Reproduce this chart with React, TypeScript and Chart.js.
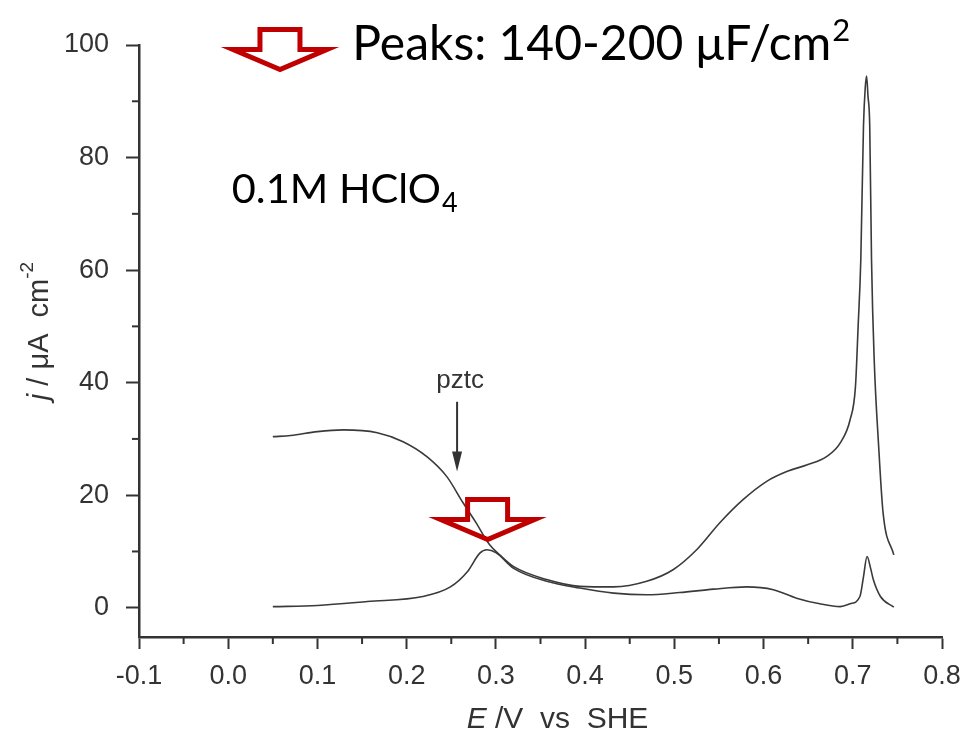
import { useEffect, useRef } from "react";
import { Chart, registerables } from "chart.js";

Chart.register(...registerables);

// ---- data ----
const anodicE = [0.05, 0.07, 0.1, 0.129, 0.167, 0.196, 0.223, 0.245, 0.263, 0.277, 0.293, 0.305, 0.32, 0.357, 0.394, 0.432, 0.469, 0.499, 0.525, 0.551, 0.577, 0.604, 0.626, 0.649, 0.671, 0.686, 0.697, 0.703, 0.706, 0.709, 0.712, 0.714, 0.7155, 0.717, 0.719, 0.721, 0.724, 0.729, 0.734, 0.746];
const anodicJ = [30.4, 30.6, 31.3, 31.6, 31.1, 29.5, 26.8, 23.3, 18.7, 15.3, 11.2, 9.3, 7.3, 5.0, 3.8, 3.7, 4.7, 6.8, 10.3, 15.1, 19.2, 22.5, 24.2, 25.4, 26.9, 29.3, 33.4, 39.3, 50.0, 61.9, 85.6, 92.5, 94.5, 91.0, 85.6, 61.9, 44.1, 28.7, 16.8, 9.4];

const cathodicE = [0.05, 0.1, 0.156, 0.218, 0.249, 0.268, 0.282, 0.29, 0.3, 0.32, 0.357, 0.394, 0.432, 0.469, 0.506, 0.544, 0.581, 0.611, 0.637, 0.663, 0.686, 0.697, 0.708, 0.712, 0.716, 0.72, 0.723, 0.731, 0.746];
const cathodicJ = [0.2, 0.4, 1.1, 2.0, 3.7, 6.4, 9.7, 10.3, 9.8, 7.0, 4.7, 3.5, 2.6, 2.3, 2.7, 3.3, 3.7, 3.2, 1.7, 0.7, 0.2, 0.7, 2.0, 5.5, 9.1, 7.0, 5.0, 2.0, 0.1];

const xTickValues = [-0.1, 0.0, 0.1, 0.2, 0.3, 0.4, 0.5, 0.6, 0.7, 0.8];
const xMinorTicks = [-0.05, 0.05, 0.15, 0.25, 0.35, 0.45, 0.55, 0.65, 0.75];
const yTickValues = [0, 20, 40, 60, 80, 100];
const yMinorTicks = [10, 30, 50, 70, 90];
const xRange = [-0.1, 0.8];
const yRange = [-5.2, 100];

const peakText = "Peaks: 140-200 \u03BCF/cm";
const peakSup = "2";
const peakAt = { E: 0.139, j: 97.4 };
const electrolyteText = "0.1M HClO";
const electrolyteSub = "4";
const electrolyteAt = { E: 0.004, j: 72.0 };
const pztcLabel = "pztc";
const pztcAt = { E: 0.2565, label: 39.1, from: 36.6, to: 24.2 };
const redArrowTips = [
  { E: 0.058, j: 95.1 },
  { E: 0.2907, j: 11.6 },
];

const LINE = "#3a3a3a";
const AXIS = "#333333";
const RED = "#c00000";
const SANS = "'Liberation Sans', Arial, sans-serif";

const overlay = {
  id: "overlay",
  afterDraw(chart: any) {
    const ctx: CanvasRenderingContext2D = chart.ctx;
    const xs = chart.scales.x;
    const ys = chart.scales.y;
    const area = chart.chartArea;
    ctx.save();

    // minor ticks
    ctx.strokeStyle = AXIS;
    ctx.lineWidth = 2;
    xMinorTicks.forEach((v) => {
      const px = xs.getPixelForValue(v);
      ctx.beginPath();
      ctx.moveTo(px, area.bottom);
      ctx.lineTo(px, area.bottom + 7);
      ctx.stroke();
    });
    yMinorTicks.forEach((v) => {
      const py = ys.getPixelForValue(v);
      ctx.beginPath();
      ctx.moveTo(area.left, py);
      ctx.lineTo(area.left - 7, py);
      ctx.stroke();
    });

    // pztc label + arrow
    const pzx = xs.getPixelForValue(pztcAt.E);
    ctx.fillStyle = AXIS;
    ctx.font = `26px ${SANS}`;
    ctx.textAlign = "center";
    ctx.textBaseline = "alphabetic";
    ctx.fillText(pztcLabel, pzx + 3, ys.getPixelForValue(pztcAt.label));
    const y0 = ys.getPixelForValue(pztcAt.from);
    const y1 = ys.getPixelForValue(pztcAt.to);
    ctx.lineWidth = 2;
    ctx.beginPath();
    ctx.moveTo(pzx, y0);
    ctx.lineTo(pzx, y1 - 16);
    ctx.stroke();
    ctx.beginPath();
    ctx.moveTo(pzx - 5, y1 - 20);
    ctx.lineTo(pzx + 5, y1 - 20);
    ctx.lineTo(pzx, y1);
    ctx.closePath();
    ctx.fill();

    // red hollow block arrows
    ctx.strokeStyle = RED;
    ctx.lineWidth = 5;
    ctx.lineJoin = "miter";
    redArrowTips.forEach((t) => {
      const tx = xs.getPixelForValue(t.E);
      const ty = ys.getPixelForValue(t.j);
      ctx.beginPath();
      ctx.moveTo(tx, ty - 3);
      ctx.lineTo(tx - 47, ty - 23);
      ctx.lineTo(tx - 20, ty - 23);
      ctx.lineTo(tx - 20, ty - 43);
      ctx.lineTo(tx + 20, ty - 43);
      ctx.lineTo(tx + 20, ty - 23);
      ctx.lineTo(tx + 47, ty - 23);
      ctx.closePath();
      ctx.stroke();
    });

    // big annotation texts
    ctx.fillStyle = "#000";
    ctx.textAlign = "left";
    ctx.textBaseline = "alphabetic";
    let px = xs.getPixelForValue(peakAt.E);
    let py = ys.getPixelForValue(peakAt.j);
    ctx.font = `48px Lato, 'Open Sans', sans-serif`;
    ctx.fillText(peakText, px, py);
    px += ctx.measureText(peakText).width + 1;
    ctx.font = `31px Lato, 'Open Sans', sans-serif`;
    ctx.fillText(peakSup, px, py - 19);

    px = xs.getPixelForValue(electrolyteAt.E);
    py = ys.getPixelForValue(electrolyteAt.j);
    ctx.font = `41.5px Lato, 'Open Sans', sans-serif`;
    ctx.fillText(electrolyteText, px, py);
    px += ctx.measureText(electrolyteText).width + 1;
    ctx.font = `27px Lato, 'Open Sans', sans-serif`;
    ctx.fillText(electrolyteSub, px, py + 9);

    // x axis title
    ctx.fillStyle = AXIS;
    const xParts: [string, string][] = [
      ["E", "italic"],
      [" /V  vs  SHE", "normal"],
    ];
    let total = 0;
    xParts.forEach(([s, st]) => {
      ctx.font = `${st} 30px ${SANS}`;
      total += ctx.measureText(s).width;
    });
    let cx = (area.left + area.right) / 2 + 17 - total / 2;
    const by = area.bottom + 91;
    xParts.forEach(([s, st]) => {
      ctx.font = `${st} 30px ${SANS}`;
      ctx.fillText(s, cx, by);
      cx += ctx.measureText(s).width;
    });

    // y axis title (rotated)
    ctx.save();
    ctx.translate(area.left - 99, (area.top + area.bottom) / 2 - 10);
    ctx.rotate(-Math.PI / 2);
    const yParts: [string, string, number, number][] = [
      ["j", "italic", 29, 0],
      [" / \u03BCA  cm", "normal", 29, 0],
      ["-2", "normal", 19, -12],
    ];
    let yTotal = 0;
    yParts.forEach(([s, st, sz]) => {
      ctx.font = `${st} ${sz}px ${SANS}`;
      yTotal += ctx.measureText(s).width;
    });
    let ox = -yTotal / 2;
    ctx.textBaseline = "middle";
    yParts.forEach(([s, st, sz, dy]) => {
      ctx.font = `${st} ${sz}px ${SANS}`;
      ctx.fillText(s, ox, dy);
      ox += ctx.measureText(s).width;
    });
    ctx.restore();

    ctx.restore();
  },
};

export default function App() {
  const ref = useRef<HTMLCanvasElement | null>(null);
  useEffect(() => {
    if (!ref.current) return;
    const chart = new Chart(ref.current, {
      type: "line",
      data: {
        datasets: [
          {
            label: "anodic",
            data: anodicE.map((e, i) => ({ x: e, y: anodicJ[i] })),
            borderColor: LINE,
            borderWidth: 1.6,
            pointRadius: 0,
            fill: false,
            cubicInterpolationMode: "monotone",
          },
          {
            label: "cathodic",
            data: cathodicE.map((e, i) => ({ x: e, y: cathodicJ[i] })),
            borderColor: LINE,
            borderWidth: 1.6,
            pointRadius: 0,
            fill: false,
            cubicInterpolationMode: "monotone",
          },
        ],
      },
      options: {
        animation: false,
        responsive: false,
        maintainAspectRatio: false,
        layout: { padding: { left: 0, right: 26, top: 45, bottom: 0 } },
        plugins: { legend: { display: false }, tooltip: { enabled: false }, title: { display: false } },
        scales: {
          x: {
            type: "linear",
            min: xRange[0],
            max: xRange[1],
            afterBuildTicks: (scale: any) => {
              scale.ticks = xTickValues.map((v) => ({ value: v }));
            },
            afterFit: (scale: any) => {
              scale.height = 101;
              scale.paddingLeft = 0;
              scale.paddingRight = 0;
            },
            grid: { display: true, drawOnChartArea: false, drawTicks: true, tickLength: 12, tickWidth: 2, tickColor: AXIS },
            border: { display: true, color: AXIS, width: 2.5 },
            ticks: {
              color: AXIS,
              font: { family: SANS, size: 27 },
              padding: 11,
              maxRotation: 0,
              autoSkip: false,
              callback: (v: any) => Number(v).toFixed(1),
            },
          },
          y: {
            type: "linear",
            min: yRange[0],
            max: yRange[1],
            afterBuildTicks: (scale: any) => {
              scale.ticks = yTickValues.map((v) => ({ value: v }));
            },
            afterFit: (scale: any) => {
              scale.width = 139;
              scale.paddingTop = 0;
              scale.paddingBottom = 0;
            },
            grid: { display: true, drawOnChartArea: false, drawTicks: true, tickLength: 13, tickWidth: 2, tickColor: AXIS },
            border: { display: true, color: AXIS, width: 2.5 },
            ticks: {
              color: AXIS,
              font: { family: SANS, size: 27 },
              padding: 17,
              autoSkip: false,
              callback: (v: any) => String(v),
            },
          },
        },
      },
      plugins: [overlay],
    } as any);
    return () => chart.destroy();
  }, []);
  return (
    <div style={{ position: "fixed", left: 0, top: 0, width: 968, height: 738, background: "#fff" }}>
      <canvas ref={ref} width={968} height={738} style={{ width: 968, height: 738, display: "block" }} />
    </div>
  );
}
